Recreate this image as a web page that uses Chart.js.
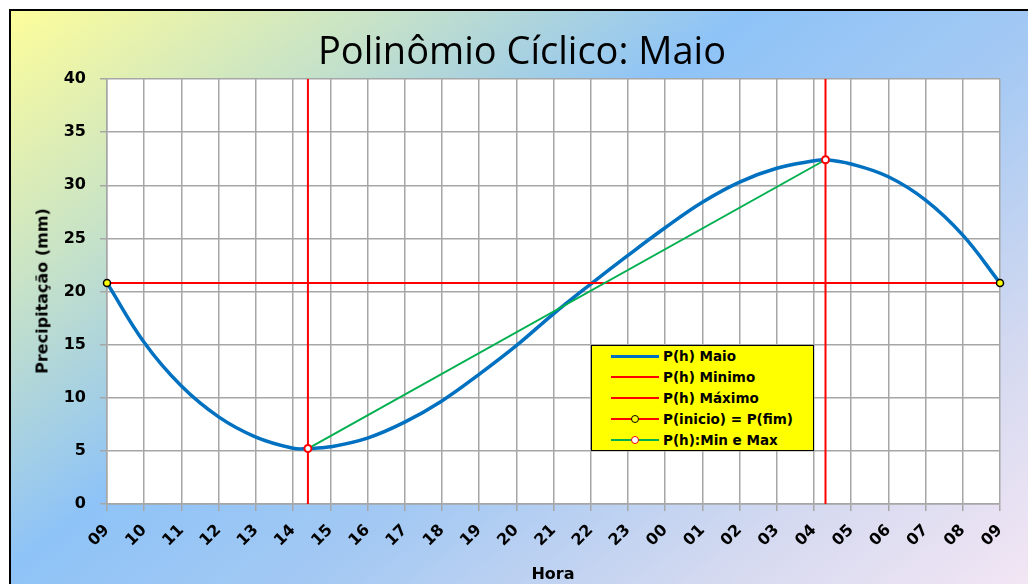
<!DOCTYPE html>
<html>
<head>
<meta charset="utf-8">
<script src="https://cdn.jsdelivr.net/npm/chart.js@4/dist/chart.umd.min.js"></script>
<style>
  body { margin: 0; width: 1028px; height: 584px; overflow: hidden; background: #fff; position: relative; font-family: "DejaVu Sans", sans-serif; }
  #frame { position: absolute; left: 9px; top: 9px; width: 1040px; height: 600px; border: 2.5px solid #000;
    background: linear-gradient(143deg, #fdfd9a 0%, #c8e3c6 20%, #8ec3f7 40%, #a4c9f3 58%, #d6daf0 80%, #f8e8f5 100%); }
  #chart { position: absolute; left: 0; top: 0; }
  #title { position: absolute; left: 0; width: 1044px; top: 23px; text-align: center; font-family: "Open Sans", sans-serif; font-size: 38px; color: #000; }
  .axis-title { position: absolute; font-weight: bold; font-size: 16px; color: #000; white-space: nowrap; }
  #xtitle { left: 0; width: 1106px; top: 564px; text-align: center; }
  #ytitle { left: 42px; top: 291px; transform: translate(-50%, -50%) rotate(-90deg); }
  #legend { position: absolute; left: 591px; top: 345px; width: 221px; height: 104px; background: #ffff00; border: 1.5px solid #000; }
  .row { position: absolute; left: 0; height: 21px; width: 100%; }
  .row .ln { position: absolute; left: 19px; width: 48px; top: 50%; }
  .row .mk { position: absolute; left: 39px; top: 50%; width: 6px; height: 6px; margin-top: -4px; border-radius: 50%; }
  .row span.tx { position: absolute; left: 71px; top: 50%; transform: translateY(-52%); font-weight: bold; font-size: 13.5px; white-space: nowrap; }
</style>
</head>
<body>
<div id="frame"></div>
<canvas id="chart" width="1028" height="584"></canvas>
<div id="title">Polinômio Cíclico: Maio</div>
<div id="xtitle" class="axis-title">Hora</div>
<div id="ytitle" class="axis-title">Precipitação (mm)</div>
<div id="legend"></div>
<script>
// eixo x: horas (posição 0..24)
const hourLabels = ['09','10','11','12','13','14','15','16','17','18','19','20','21','22','23','00','01','02','03','04','05','06','07','08','09'];

// P(h) Maio
const curveX = [0, 1, 2, 3, 4, 5, 5.40, 6, 7, 8, 9, 10, 11, 12, 13, 14, 15, 16, 17, 18, 19, 19.31, 20, 21, 22, 23, 24];
const curveY = [20.8, 15.2, 11.1, 8.2, 6.3, 5.25, 5.22, 5.38, 6.2, 7.7, 9.7, 12.2, 14.9, 17.9, 20.7, 23.4, 26.0, 28.4, 30.3, 31.6, 32.3, 32.4, 32.0, 30.8, 28.6, 25.3, 20.8];

// mínimo e máximo
const minX = 5.40, minY = 5.22;
const maxX = 19.31, maxY = 32.4;
const startEnd = 20.8;
const yRange = [0, 40];

const legendItems = [
    { label: 'P(h) Maio', color: '#0070c0', width: 3 },
    { label: 'P(h) Minimo', color: '#ff0000', width: 2 },
    { label: 'P(h) Máximo', color: '#ff0000', width: 2 },
    { label: 'P(inicio) = P(fim)', color: '#ff0000', width: 2, marker: { fill: '#ffff00', border: '#000' } },
    { label: 'P(h):Min e Max', color: '#00b050', width: 2, marker: { fill: '#fff', border: '#ff0000' } }
];

const plotBg = {
    id: 'plotBg',
    beforeDraw(chart) {
        const a = chart.chartArea;
        chart.ctx.save();
        chart.ctx.fillStyle = '#fff';
        chart.ctx.fillRect(a.left, a.top, a.right - a.left, a.bottom - a.top);
        chart.ctx.restore();
    }
};

const tickFont = { family: 'DejaVu Sans', weight: 'bold', size: 16 };

new Chart(document.getElementById('chart'), {
    type: 'line',
    data: {
        datasets: [
            {
                label: 'P(inicio) = P(fim)',
                data: [{ x: 0, y: startEnd }, { x: 24, y: startEnd }],
                borderColor: '#ff0000', borderWidth: 2,
                pointRadius: 3.5, pointBackgroundColor: '#ffff00', pointBorderColor: '#000', pointBorderWidth: 1.5,
                clip: false, order: 1
            },
            {
                label: 'P(h) Minimo',
                data: [{ x: minX, y: yRange[0] }, { x: minX, y: yRange[1] }],
                borderColor: '#ff0000', borderWidth: 2, pointRadius: 0, order: 4
            },
            {
                label: 'P(h) Máximo',
                data: [{ x: maxX, y: yRange[0] }, { x: maxX, y: yRange[1] }],
                borderColor: '#ff0000', borderWidth: 2, pointRadius: 0, order: 4
            },
            {
                label: 'P(h) Maio',
                data: curveX.map((x, i) => ({ x: x, y: curveY[i] })),
                borderColor: '#0070c0', borderWidth: 3.5, pointRadius: 0,
                tension: 0.4, order: 3
            },
            {
                label: 'P(h):Min e Max',
                data: [{ x: minX, y: minY }, { x: maxX, y: maxY }],
                borderColor: '#00b050', borderWidth: 2,
                pointRadius: 3.5, pointBackgroundColor: '#fff', pointBorderColor: '#ff0000', pointBorderWidth: 2,
                clip: false, order: 0
            }
        ]
    },
    options: {
        responsive: false,
        animation: false,
        layout: { padding: { top: 79, right: 28, left: 0, bottom: 0 } },
        plugins: { legend: { display: false }, tooltip: { enabled: false } },
        scales: {
            x: {
                type: 'linear', min: 0, max: 24,
                afterFit(s) { s.height = 80; },
                ticks: {
                    stepSize: 1, autoSkip: false, maxRotation: 45, minRotation: 45, padding: 10,
                    color: '#000', font: tickFont,
                    callback: (v) => hourLabels[v]
                },
                grid: { color: '#a6a6a6', lineWidth: 1.5, tickLength: 7 },
                border: { color: '#a6a6a6', width: 1.5 }
            },
            y: {
                min: yRange[0], max: yRange[1],
                afterFit(s) { s.width = 107; },
                ticks: { stepSize: 5, padding: 14, color: '#000', font: tickFont },
                grid: { color: '#a6a6a6', lineWidth: 1.5, tickLength: 7 },
                border: { color: '#a6a6a6', width: 1.5 }
            }
        }
    },
    plugins: [plotBg]
});

// legenda
const legendEl = document.getElementById('legend');
legendItems.forEach((it, i) => {
    const row = document.createElement('div');
    row.className = 'row';
    row.style.top = (i * 21 - 0.5) + 'px';
    let html = `<div class="ln" style="border-top:${it.width}px solid ${it.color};margin-top:-${it.width / 2}px"></div>`;
    if (it.marker) {
        html += `<div class="mk" style="background:${it.marker.fill};border:1.5px solid ${it.marker.border}"></div>`;
    }
    html += `<span class="tx">${it.label}</span>`;
    row.innerHTML = html;
    legendEl.appendChild(row);
});
</script>
</body>
</html>
